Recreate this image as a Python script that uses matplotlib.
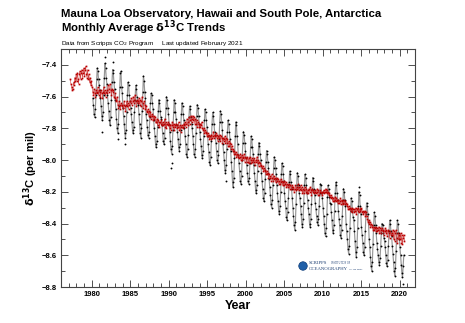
import matplotlib
matplotlib.use("Agg")
import matplotlib.pyplot as plt
from matplotlib.ticker import MultipleLocator
from matplotlib.patches import Ellipse
import numpy as np

plt.rcParams['font.family'] = ['Liberation Sans', 'DejaVu Sans']

# ---------------- Data (per mil) ----------------
# Mauna Loa monthly d13C, starting Feb 1980
ml_start = (1980, 2)
ml_1980s = [
    -7.61, -7.65, -7.71, -7.73, -7.68, -7.59, -7.49, -7.42, -7.44, -7.49, -7.53,
    -7.56, -7.61, -7.66, -7.72, -7.75, -7.70, -7.59, -7.48, -7.39, -7.42, -7.48, -7.52,
    -7.59, -7.64, -7.69, -7.75, -7.78, -7.73, -7.62, -7.51, -7.43, -7.45, -7.51, -7.55,
    -7.62, -7.68, -7.74, -7.80, -7.83, -7.77, -7.66, -7.54, -7.45, -7.44, -7.54, -7.58,
    -7.67, -7.72, -7.77, -7.83, -7.86, -7.81, -7.70, -7.59, -7.51, -7.53, -7.59, -7.63,
    -7.67, -7.71, -7.76, -7.81, -7.83, -7.79, -7.70, -7.62, -7.53, -7.55, -7.60, -7.64,
    -7.65, -7.71, -7.77, -7.83, -7.86, -7.80, -7.69, -7.57, -7.47, -7.50, -7.57, -7.61,
    -7.71, -7.75, -7.79, -7.84, -7.86, -7.82, -7.73, -7.64, -7.58, -7.59, -7.64, -7.68,
    -7.75, -7.80, -7.85, -7.90, -7.92, -7.88, -7.79, -7.69, -7.62, -7.64, -7.69, -7.73,
    -7.74, -7.78, -7.83, -7.88, -7.90, -7.86, -7.77, -7.67, -7.60, -7.62, -7.67, -7.71,
]
ml_1990s = [
    -7.77, -7.82, -7.88, -7.93, -7.96, -7.91, -7.81, -7.70, -7.62, -7.64, -7.70, -7.74,
    -7.78, -7.82, -7.87, -7.92, -7.94, -7.90, -7.81, -7.71, -7.64, -7.66, -7.71, -7.75,
    -7.80, -7.85, -7.90, -7.96, -7.98, -7.93, -7.84, -7.73, -7.66, -7.68, -7.73, -7.77,
    -7.80, -7.85, -7.90, -7.96, -7.98, -7.93, -7.83, -7.72, -7.65, -7.67, -7.72, -7.77,
    -7.82, -7.87, -7.91, -7.97, -7.99, -7.94, -7.85, -7.75, -7.68, -7.70, -7.75, -7.79,
    -7.85, -7.90, -7.95, -8.01, -8.03, -7.98, -7.88, -7.77, -7.70, -7.72, -7.77, -7.82,
    -7.84, -7.89, -7.94, -8.00, -8.02, -7.97, -7.87, -7.76, -7.69, -7.71, -7.76, -7.81,
    -7.90, -7.95, -8.00, -8.06, -8.08, -8.03, -7.93, -7.82, -7.75, -7.77, -7.82, -7.87,
    -7.94, -8.01, -8.07, -8.14, -8.17, -8.11, -7.99, -7.85, -7.76, -7.78, -7.85, -7.90,
    -7.97, -8.02, -8.07, -8.13, -8.15, -8.10, -8.00, -7.89, -7.82, -7.84, -7.89, -7.94,
]
ml_2000s = [
    -7.99, -8.03, -8.08, -8.13, -8.15, -8.11, -8.02, -7.92, -7.85, -7.87, -7.92, -7.96,
    -8.03, -8.08, -8.13, -8.19, -8.21, -8.16, -8.07, -7.96, -7.89, -7.91, -7.96, -8.00,
    -8.08, -8.13, -8.18, -8.24, -8.26, -8.21, -8.12, -8.01, -7.94, -7.96, -8.01, -8.05,
    -8.12, -8.17, -8.22, -8.28, -8.30, -8.25, -8.16, -8.05, -7.98, -8.00, -8.05, -8.09,
    -8.16, -8.21, -8.26, -8.32, -8.34, -8.29, -8.20, -8.09, -8.02, -8.04, -8.09, -8.13,
    -8.21, -8.26, -8.30, -8.36, -8.38, -8.33, -8.24, -8.14, -8.07, -8.09, -8.14, -8.18,
    -8.24, -8.30, -8.35, -8.41, -8.44, -8.39, -8.28, -8.16, -8.08, -8.10, -8.16, -8.21,
    -8.24, -8.29, -8.34, -8.40, -8.42, -8.37, -8.27, -8.16, -8.09, -8.11, -8.16, -8.21,
    -8.25, -8.30, -8.34, -8.40, -8.42, -8.37, -8.28, -8.18, -8.11, -8.13, -8.18, -8.22,
    -8.27, -8.31, -8.35, -8.39, -8.41, -8.37, -8.29, -8.21, -8.15, -8.16, -8.21, -8.24,
]
ml_2010s = [
    -8.30, -8.35, -8.40, -8.46, -8.48, -8.43, -8.34, -8.23, -8.16, -8.18, -8.23, -8.27,
    -8.28, -8.33, -8.38, -8.44, -8.46, -8.41, -8.32, -8.21, -8.14, -8.16, -8.21, -8.25,
    -8.32, -8.37, -8.41, -8.47, -8.49, -8.44, -8.35, -8.25, -8.18, -8.20, -8.25, -8.29,
    -8.40, -8.45, -8.50, -8.56, -8.59, -8.54, -8.43, -8.32, -8.24, -8.26, -8.32, -8.36,
    -8.38, -8.45, -8.51, -8.58, -8.61, -8.55, -8.43, -8.29, -8.20, -8.22, -8.29, -8.34,
    -8.42, -8.47, -8.52, -8.58, -8.60, -8.55, -8.45, -8.34, -8.27, -8.29, -8.34, -8.39,
    -8.50, -8.55, -8.61, -8.67, -8.70, -8.64, -8.53, -8.41, -8.33, -8.35, -8.41, -8.46,
    -8.52, -8.56, -8.60, -8.64, -8.66, -8.62, -8.54, -8.46, -8.40, -8.41, -8.46, -8.49,
    -8.51, -8.55, -8.60, -8.65, -8.67, -8.63, -8.54, -8.45, -8.38, -8.40, -8.45, -8.48,
    -8.54, -8.59, -8.64, -8.70, -8.73, -8.68, -8.57, -8.46, -8.38, -8.40, -8.46, -8.50,
]
ml_2020 = [-8.55, -8.60, -8.66, -8.71, -8.74, -8.67, -8.60]

# isolated Mauna Loa samples off the curve
ml_out_year = [1981.3, 1981.7, 1982.7, 1983.35, 1984.3, 1990.3, 1990.4, 1997.4, 2014.7, 2020.4]
ml_out_val = [-7.82, -7.35, -7.38, -7.87, -7.90, -8.05, -8.02, -8.13, -8.17, -8.78]

# South Pole monthly d13C, starting Mar 1977
spo_start = (1977, 3)
spo_1970s = [
    -7.49, -7.52, -7.54, -7.56, -7.55, -7.51, -7.53, -7.48, -7.50, -7.46,
    -7.50, -7.45, -7.49, -7.52, -7.46, -7.44, -7.49, -7.45, -7.43, -7.48, -7.45, -7.42,
    -7.47, -7.43, -7.41, -7.46, -7.48, -7.43, -7.49, -7.46, -7.51, -7.48, -7.53, -7.50,
]
spo_1980s = [
    -7.54, -7.57, -7.59, -7.55, -7.58, -7.60, -7.56, -7.58, -7.57, -7.54, -7.59, -7.56,
    -7.57, -7.60, -7.56, -7.58, -7.61, -7.57, -7.54, -7.58, -7.56, -7.60, -7.57, -7.58,
    -7.56, -7.53, -7.57, -7.55, -7.52, -7.56, -7.59, -7.55, -7.57, -7.56, -7.60, -7.61,
    -7.58, -7.62, -7.63, -7.60, -7.65, -7.67, -7.63, -7.65, -7.68, -7.64, -7.66, -7.65,
    -7.67, -7.65, -7.63, -7.66, -7.69, -7.65, -7.63, -7.66, -7.64, -7.68, -7.65, -7.63,
    -7.64, -7.61, -7.65, -7.63, -7.60, -7.64, -7.62, -7.59, -7.63, -7.66, -7.62, -7.64,
    -7.63, -7.61, -7.65, -7.62, -7.66, -7.63, -7.60, -7.64, -7.67, -7.63, -7.65, -7.68,
    -7.66, -7.69, -7.70, -7.68, -7.72, -7.69, -7.72, -7.70, -7.74, -7.71, -7.72, -7.75,
    -7.72, -7.74, -7.73, -7.76, -7.76, -7.74, -7.78, -7.75, -7.76, -7.79, -7.76, -7.77,
    -7.75, -7.78, -7.76, -7.78, -7.77, -7.74, -7.79, -7.76, -7.80, -7.77, -7.78, -7.76,
]
spo_1990s = [
    -7.77, -7.80, -7.78, -7.81, -7.78, -7.76, -7.79, -7.77, -7.81, -7.78, -7.79, -7.77,
    -7.78, -7.80, -7.79, -7.76, -7.81, -7.78, -7.82, -7.79, -7.78, -7.80, -7.79, -7.77,
    -7.78, -7.76, -7.79, -7.77, -7.74, -7.78, -7.76, -7.73, -7.77, -7.75, -7.72, -7.76,
    -7.74, -7.72, -7.75, -7.73, -7.77, -7.74, -7.77, -7.75, -7.79, -7.76, -7.77, -7.79,
    -7.77, -7.79, -7.78, -7.76, -7.80, -7.81, -7.80, -7.83, -7.81, -7.83, -7.82, -7.85,
    -7.83, -7.85, -7.84, -7.87, -7.85, -7.87, -7.84, -7.86, -7.85, -7.82, -7.86, -7.84,
    -7.85, -7.83, -7.86, -7.84, -7.88, -7.85, -7.86, -7.84, -7.88, -7.85, -7.86, -7.89,
    -7.86, -7.88, -7.87, -7.85, -7.89, -7.86, -7.89, -7.87, -7.91, -7.88, -7.91, -7.89,
    -7.90, -7.93, -7.91, -7.94, -7.93, -7.96, -7.94, -7.96, -7.95, -7.98, -7.96, -7.98,
    -7.97, -7.99, -7.98, -7.96, -8.00, -7.97, -8.00, -7.98, -7.99, -7.96, -8.01, -7.98,
]
spo_2000s = [
    -7.99, -8.01, -7.98, -8.01, -7.99, -8.02, -7.98, -8.00, -8.02, -7.99, -8.01, -8.00,
    -8.01, -7.99, -8.03, -8.00, -8.01, -7.98, -8.02, -8.00, -8.04, -8.01, -8.02, -8.04,
    -8.03, -8.05, -8.04, -8.07, -8.05, -8.07, -8.06, -8.09, -8.07, -8.09, -8.08, -8.11,
    -8.09, -8.11, -8.10, -8.13, -8.09, -8.11, -8.13, -8.10, -8.12, -8.11, -8.14, -8.12,
    -8.11, -8.13, -8.12, -8.15, -8.13, -8.15, -8.12, -8.14, -8.13, -8.16, -8.14, -8.16,
    -8.13, -8.15, -8.14, -8.17, -8.15, -8.17, -8.16, -8.15, -8.18, -8.16, -8.18, -8.17,
    -8.16, -8.18, -8.17, -8.20, -8.18, -8.16, -8.19, -8.17, -8.18, -8.15, -8.19, -8.17,
    -8.18, -8.16, -8.19, -8.17, -8.21, -8.18, -8.21, -8.19, -8.17, -8.20, -8.18, -8.21,
    -8.19, -8.21, -8.18, -8.20, -8.17, -8.19, -8.22, -8.18, -8.20, -8.19, -8.21, -8.20,
    -8.19, -8.21, -8.20, -8.18, -8.22, -8.19, -8.22, -8.20, -8.19, -8.21, -8.20, -8.22,
]
spo_2010s = [
    -8.20, -8.19, -8.21, -8.20, -8.18, -8.20, -8.19, -8.21, -8.20, -8.22, -8.21, -8.23,
    -8.22, -8.24, -8.23, -8.26, -8.24, -8.26, -8.25, -8.23, -8.26, -8.24, -8.25, -8.27,
    -8.25, -8.27, -8.26, -8.24, -8.28, -8.25, -8.26, -8.28, -8.27, -8.25, -8.28, -8.26,
    -8.27, -8.29, -8.28, -8.31, -8.29, -8.31, -8.30, -8.32, -8.31, -8.30, -8.33, -8.31,
    -8.31, -8.33, -8.32, -8.30, -8.34, -8.31, -8.32, -8.30, -8.33, -8.31, -8.32, -8.30,
    -8.31, -8.33, -8.32, -8.34, -8.33, -8.32, -8.35, -8.33, -8.35, -8.37, -8.39, -8.38,
    -8.40, -8.39, -8.42, -8.40, -8.42, -8.41, -8.44, -8.42, -8.44, -8.43, -8.42, -8.45,
    -8.43, -8.45, -8.44, -8.42, -8.46, -8.43, -8.46, -8.44, -8.43, -8.45, -8.44, -8.47,
    -8.45, -8.43, -8.46, -8.44, -8.48, -8.45, -8.44, -8.46, -8.49, -8.45, -8.47, -8.46,
    -8.47, -8.44, -8.50, -8.45, -8.51, -8.46, -8.44, -8.49, -8.52, -8.46, -8.50, -8.47,
]
spo_2020 = [-8.50, -8.46, -8.52, -8.47, -8.53, -8.49, -8.47, -8.51]


def monthly_times(start, n):
    y0, m0 = start
    idx = np.arange(n) + (m0 - 1)
    return y0 + (idx + 0.5) / 12.0


ml_vals = np.array(ml_1980s + ml_1990s + ml_2000s + ml_2010s + ml_2020)
ml_t = monthly_times(ml_start, len(ml_vals))
spo_vals = np.array(spo_1970s + spo_1980s + spo_1990s + spo_2000s + spo_2010s + spo_2020)
spo_t = monthly_times(spo_start, len(spo_vals))

# ---------------- Figure ----------------
W, H = 465, 323
fig = plt.figure(figsize=(W / 100, H / 100), dpi=100)
ax = fig.add_axes([61 / W, 1 - 287 / H, (415 - 61) / W, (287 - 49) / H])

ax.plot(ml_t, ml_vals, color='#969696', lw=0.85, zorder=2)
ax.plot(ml_t, ml_vals, 'o', color='black', ms=1.35, mew=0, zorder=3)
ax.plot(ml_out_year, ml_out_val, 'o', color='black', ms=1.35, mew=0, zorder=3)
ax.plot(spo_t, spo_vals, color='#d04040', lw=0.4, zorder=4)
ax.plot(spo_t, spo_vals, 's', color='#b80000', ms=1.25, mew=0, zorder=5)

ax.set_xlim(1976, 2022)
ax.set_ylim(-8.8, -7.3)
ax.xaxis.set_minor_locator(MultipleLocator(1))
ax.yaxis.set_minor_locator(MultipleLocator(0.1))
ax.tick_params(which='both', direction='in', top=True, right=True, width=0.6, color='#333333')
ax.tick_params(which='major', length=5, labelsize=5.5, pad=3)
ax.tick_params(which='minor', length=3)
ax.set_yticks([-8.8, -8.6, -8.4, -8.2, -8.0, -7.8, -7.6, -7.4])
ax.set_yticklabels(['\u22128.8', '\u22128.6', '\u22128.4', '\u22128.2', '\u22128.0',
                    '\u22127.8', '\u22127.6', '\u22127.4'], fontweight='bold', fontsize=5.5)
ax.set_xticks([1980, 1985, 1990, 1995, 2000, 2005, 2010, 2015, 2020])
ax.set_xticklabels(['1980', '1985', '1990', '1995', '2000', '2005', '2010', '2015', '2020'],
                   fontweight='bold', fontsize=5.5)
for s in ax.spines.values():
    s.set_linewidth(0.8)
    s.set_color('#444444')

ax.set_xlabel('Year', fontsize=9, fontweight='bold', labelpad=1)
ax.set_ylabel(r'$\mathbf{\delta^{13}}$C (per mil)', fontsize=8, fontweight='bold', labelpad=1)

# Titles
fig.text(61 / W, 1 - 17 / H, 'Mauna Loa Observatory, Hawaii and South Pole, Antarctica',
         fontsize=8.2, fontweight='bold', ha='left', va='baseline')
fig.text(61 / W, 1 - 32 / H, r'Monthly Average $\mathbf{\delta^{13}}$C Trends',
         fontsize=8.2, fontweight='bold', ha='left', va='baseline')
fig.text(61 / W, 1 - 44.5 / H, r'Data from Scripps CO$_2$ Program     Last updated February 2021',
         fontsize=4.6, ha='left', va='baseline')

# Logo
logo = Ellipse((303 / W, 1 - 266 / H), 8.5 / W, 8.5 / H, transform=fig.transFigure,
               facecolor='#1f5fa8', edgecolor='#0d3c78', lw=0.5)
fig.patches.append(logo)
fig.text(309 / W, 1 - 264.5 / H, 'SCRIPPS', fontsize=3.4, family='Liberation Serif',
         color='#1d3f73', ha='left', va='baseline')
fig.text(331 / W, 1 - 264.5 / H, 'INSTITUTION OF', fontsize=1.8, family='Liberation Serif',
         color='#1d3f73', ha='left', va='baseline')
fig.text(309 / W, 1 - 269.5 / H, 'OCEANOGRAPHY', fontsize=3.4, family='Liberation Serif',
         color='#1d3f73', ha='left', va='baseline')
fig.text(349 / W, 1 - 269.5 / H, 'UC San Diego', fontsize=1.6, family='Liberation Serif',
         color='#1d3f73', ha='left', va='baseline')

fig.savefig('out.png', dpi=100)
